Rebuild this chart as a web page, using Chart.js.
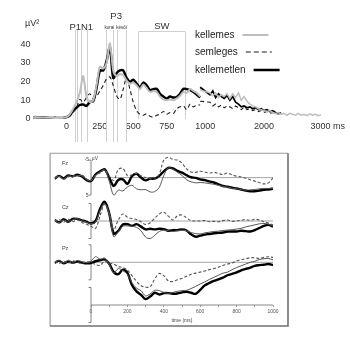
<!DOCTYPE html>
<html><head><meta charset="utf-8">
<script src="https://cdn.jsdelivr.net/npm/chart.js@4.4.0/dist/chart.umd.min.js"></script>
<style>
html,body{margin:0;padding:0;background:#fff;width:350px;height:343px;overflow:hidden}
canvas{position:absolute;left:0}
#top{top:0px}
#erp{top:140px}
</style></head><body>
<canvas id="top" width="350" height="145" style="width:350px;height:145px"></canvas>
<canvas id="erp" width="350" height="203" style="width:350px;height:203px"></canvas>
<script>
// ================= TOP CHART DATA (µV², ms) =================
const seg1Times = [-250,-225,-200,-175,-150,-125,-100,-75,-50,-25,0,25,50,75,100,125,150,175,200,225,250,275,300,325,350,375,400,425,450,475,500,525,550,575,600,625,650,675,700,725,750,775,800,825,850,875,900,925,950,975,1000];
const kellemes1 = [1.0,1.0,0.9,0.8,0.7,0.7,0.6,0.6,0.6,0.6, 1.0,2.5,5.5,9.0,14.0,23.0,12.0,9.0,10.0,18.0, 28.0,27.0,30.0,40.5,26.0,23.0,24.0,23.5,20.5,19.0, 19.5,18.0,16.0,18.5,16.5,14.5,15.0,14.5,12.0,10.5, 10.0,10.5,10.0,11.0,12.5,14.5,14.0,16.0,15.0,14.0, 12.0];
const semleges1 = [0.9,0.9,0.8,0.8,0.7,0.7,0.6,0.6,0.6,0.6, 0.8,1.5,3.5,6.0,10.5,9.0,11.5,13.5,11.0,12.0, 15.0,18.0,21.5,22.5,18.0,12.5,10.5,16.0,22.0,16.0, 9.0,4.5,2.5,2.0,2.8,1.5,1.0,2.0,2.5,4.0, 2.5,3.5,3.0,5.5,6.5,7.0,5.0,8.0,6.5,7.5, 7.5];
const kellemetlen1 = [1.0,1.0,0.9,0.8,0.7,0.6,0.6,0.6,0.5,0.6, 1.0,2.0,4.5,6.0,7.5,7.8,7.0,9.0,9.5,16.5, 26.0,26.0,31.0,38.5,22.0,24.5,26.0,26.0,22.0,20.0, 21.0,19.0,17.0,19.5,18.0,15.5,16.0,16.2,13.5,12.0, 11.0,12.0,11.5,11.8,13.5,16.2,16.0,15.5,14.5,13.0, 11.5];
const seg2Times = [1000,1050,1100,1150,1200,1250,1300,1350,1400,1450,1500,1550,1600,1650,1700,1750,1800,1850,1900,1950,2000,2050,2100,2150,2200,2250,2300,2350,2400,2450,2500,2550,2600,2650,2700,2750,2800,2850,2900,2950,3000];
const kellemes2 = [15.5,14.0,12.5,14.0,11.5,13.0,12.0,13.5,11.0,13.5, 11.5,14.0,10.0,12.0,9.5,8.0,7.0,6.5,5.5,5.0, 4.5,4.0,4.5,3.5,3.0,3.5,2.5,3.0,2.0,3.0, 2.5,2.0,3.0,2.0,2.5,1.8,2.8,2.0,2.5,1.8, 2.2];
const semleges2 = [9.5,9.0,7.0,8.0,6.5,7.5,6.0,7.0,6.5,5.5, 7.0,6.0,5.0,6.5,5.0,5.5,4.5,5.0,4.0,4.5, 3.5,4.0,3.0,3.5,2.5,3.0,2.5];
const kellemetlen2 = [17.0,13.0,15.0,11.5,13.5,12.0,11.0,12.5,10.0,12.0, 9.0,8.0,6.5,7.0,6.0,6.5,5.5,6.0,5.0,5.5, 4.5,5.0,4.0,4.5,3.5,3.0,3.2];
const xTickTimes = [0,250,500,750,1000,2000,3000];
const xTickLabels = ['0','250','500','750','1000','2000','3000 ms'];
const yTickValues = [0,10,20,30,40];
const windowTimes = [65,82,110,157,297,347,377,447];
const swWindow = [539,888];
const legendLabels = ['kellemes','semleges','kellemetlen'];

// ================= ERP DATA (µV, ms) =================
const erpTimes = [-200,-175,-150,-125,-100,-75,-50,-25,0,25,50,75,100,125,150,175,200,225,250,275,300,325,350,375,400,425,450,475,500,525,550,575,600,625,650,675,700,725,750,775,800,825,850,875,900,925,950,975,1000];
const channelNames = ['Fz','Cz','Pz'];
const fzKellemes = [0.2,-0.4,0.4,-0.5,-0.2,-0.6,-0.5,0.5, 0.9,-0.7,-1.6,-2.2,1.0,5.0,3.6,3.8,2.7,2.2,3.2,3.5,3.4,4.1,4.0,2.8,-0.6,-2.8,-2.4,-1.5,-0.6,0.6,1.2,1.5,1.4,1.5,1.7,1.9,2.2,2.5,2.7,3.0,3.2,3.4,3.6,3.5,3.4,3.2,3.1,3.1,3.0];
const fzSemleges = [0.1,-0.3,0.5,-0.2,-0.6,-0.3,-0.8,0.4, 0.8,-0.6,-1.4,-2.2,-0.5,0.8,-2.3,-2.6,-0.6,-0.8,-1.2,-0.5,0,0.2,0.4,-1.0,-5.0,-5.8,-5.2,-5.0,-4.1,-2.5,-1.6,-1.5,-1.8,-1.6,-1.3,-1.5,-1.2,-0.9,-1.3,-0.8,-0.4,-0.2,0.2,0.6,1.0,1.4,1.8,1.5,0.1];
const fzKellemetlen = [0.3,-0.5,0.2,-0.6,-0.4,-0.8,-0.3,0.7, 1.0,-0.9,-1.8,-2.4,0,2.4,0.7,0.5,1.8,-0.4,-1.1,0,0.8,0.3,0.3,-0.5,-1.8,-2.8,-2.6,-1.9,-1.4,-0.7,-0.1,0.1,0.5,0.7,1.1,1.4,1.9,2.4,2.6,2.9,3.1,3.4,3.7,3.9,3.9,3.7,3.5,3.4,3.2];
const czKellemes = [-0.2,0.5,-0.3,0.3,-0.4,-0.7,-0.1,0.3, 0.8,0.3,-3.0,-5.0,-2.0,4.5,3.0,1.5,1.4,1.5,1.8,2.8,4.6,5.0,4.1,3.0,2.6,2.8,3.0,2.8,2.6,2.8,3.3,3.6,3.7,3.4,3.2,3.0,2.9,2.7,2.6,2.5,2.3,2.1,1.7,1.4,1.1,0.8,0.7,0.9,1.4];
const czSemleges = [0.1,-0.4,0.3,-0.5,0.2,-0.3,0.4,0.9, 1.5,2.1,-1.5,-4.8,-2.0,2.4,-0.3,-2.0,-1.1,-0.7,-0.4,0.2,1.0,0.5,-0.8,-2.0,-2.5,-1.4,-0.3,-1.5,-1.7,-0.9,-0.1,0.0,0.0,-0.1,0.2,0.1,0.2,-0.1,-0.3,0.1,0.0,-0.2,-0.4,-0.2,-0.5,-0.3,0.2,0.6,1.1];
const czKellemetlen = [-0.3,0.4,-0.5,0.2,-0.6,-0.6,-0.2,0.2, 0.7,0.0,-3.5,-5.5,-2.2,3.6,2.8,1.0,0.9,1.4,0.9,1.6,2.4,2.2,2.4,2.2,2.3,2.8,2.6,2.6,2.4,2.7,3.8,4.5,4.2,3.9,3.7,3.5,3.4,3.3,3.0,3.0,3.0,2.8,2.9,3.0,2.6,2.0,1.4,1.1,1.6];
const pzKellemes = [0.0,-0.5,0.2,-0.6,0.0,-0.5,-0.2,0.1, -0.3,-1.6,-0.9,-1.2,0.6,3.0,1.8,2.4,3.4,5.8,7.4,8.1,9.6,9.0,8.0,8.1,8.6,8.9,8.6,8.3,8.1,8.0,7.5,6.9,6.2,5.6,4.9,4.3,3.7,3.1,2.8,2.1,1.5,1.0,0.5,0.0,-0.3,-0.8,-1.0,-1.1,-0.7];
const pzSemleges = [-0.2,0.3,-0.3,0.2,-0.4,0.0,0.3,-0.2, 0.1,0.6,0.9,-0.4,0.2,0.5,1.2,1.5,2.2,3.8,5.4,6.7,7.1,7.0,4.8,3.2,3.8,5.3,5.5,5.0,4.6,4.0,3.4,3.1,2.8,2.5,2.1,1.8,1.4,0.9,0.5,0.2,-0.4,-0.7,-1.0,-1.3,-1.3,-1.1,-1.4,-1.6,-1.4];
const pzKellemetlen = [0.2,-0.4,0.3,-0.2,0.1,-0.2,0.1,0.3, 0.2,-0.3,-0.6,-0.8,0.4,2.8,3.4,2.1,3.0,6.5,8.3,9.3,10.5,9.8,8.7,9.2,8.8,8.8,9.0,8.9,8.6,8.4,8.7,9.0,7.9,6.6,5.9,5.3,4.9,4.4,3.7,3.3,2.9,2.3,1.9,1.5,1.0,0.8,0.7,0.5,0.8];
const erpTickTimes = [0,100,200,300,400,500,600,700,800,900,1000];

// ================= layout helpers =================
const FONT = '"Liberation Sans", Arial, sans-serif';
const GAP = 52, K2 = 0.4263;               // broken x-axis: compressed 1000-3000 ms segment
function virt(t){ return t <= 1000 ? t : 1000 + GAP + (t - 1000) * K2; }
function tickPos(t){ if (t === 1000) return 1000 + GAP * 0.75; if (t === 3000) return virt(3000) + 50; return virt(t); }
function pts(times, vals, off){ return vals.map((v,i)=>({x: virt(times[i]), y: v + (off||0)})); }

const cGray = '#bdbdbd', cBlack = '#000';
const styleK  = {borderColor:cGray, borderWidth:2};
const styleS  = {borderColor:'#1a1a1a', borderWidth:1.1, borderDash:[4,3]};
const styleKt = {borderColor:cBlack, borderWidth:2.5};

function ds(data, st, extra){ return Object.assign({data, pointRadius:0, fill:false, tension:0.3}, st, extra||{}); }

const topPlugin = {
  id:'topDeco',
  beforeDatasetsDraw(chart){
    const c = chart.ctx, xs = chart.scales.x;
    c.save();
    c.strokeStyle = '#d0d0d0'; c.lineWidth = 1;
    windowTimes.forEach(t=>{
      const x = Math.round(xs.getPixelForValue(virt(t))) + 0.5;
      c.beginPath(); c.moveTo(x, 30); c.lineTo(x, 142); c.stroke();
    });
    const x1 = Math.round(xs.getPixelForValue(virt(swWindow[0]))) + 0.5;
    const x2 = Math.round(xs.getPixelForValue(virt(swWindow[1]))) + 0.5;
    c.beginPath(); c.moveTo(x1, 119); c.lineTo(x1, 31.5); c.lineTo(x2, 31.5); c.lineTo(x2, 119); c.stroke();
    c.restore();
  },
  afterDraw(chart){
    const c = chart.ctx, xs = chart.scales.x;
    c.save();
    c.fillStyle = '#333'; c.textBaseline = 'middle';
    c.font = '9px ' + FONT; c.textAlign = 'left';
    c.fillText('µV²', 25, 24);
    c.textAlign = 'center';
    c.font = '9.5px ' + FONT;
    c.fillText('P1N1', (xs.getPixelForValue(windowTimes[0]) + xs.getPixelForValue(windowTimes[3]))/2, 27);
    c.fillText('P3', (xs.getPixelForValue(windowTimes[4]) + xs.getPixelForValue(windowTimes[7]))/2, 16.5);
    c.fillText('SW', (xs.getPixelForValue(swWindow[0]) + xs.getPixelForValue(swWindow[1]))/2, 26.5);
    c.font = '4.5px ' + FONT;
    c.fillText('korai', (xs.getPixelForValue(windowTimes[4]) + xs.getPixelForValue(windowTimes[5]))/2, 27.5);
    c.fillText('késői', (xs.getPixelForValue(windowTimes[6]) + xs.getPixelForValue(windowTimes[7]))/2, 27.5);
    // legend
    c.font = '10px ' + FONT; c.textAlign = 'left'; c.fillStyle = '#222';
    const ly = [35, 52, 70], lx = 195;
    const lst = [styleK, styleS, styleKt];
    legendLabels.forEach((lab,i)=>{
      c.fillText(lab, lx, ly[i]);
      const w = c.measureText(lab).width;
      c.beginPath();
      c.strokeStyle = lst[i].borderColor; c.lineWidth = lst[i].borderWidth;
      c.setLineDash(lst[i].borderDash ? [5,3] : []);
      const s = lx + w + 8;
      c.moveTo(s, ly[i]); c.lineTo(s + 26, ly[i]); c.stroke();
    });
    c.restore();
  }
};

new Chart(document.getElementById('top'), {
  type:'line',
  data:{datasets:[
    ds(pts(seg1Times, kellemes1), styleK),
    ds(pts(seg2Times, kellemes2), styleK, {borderWidth:1.5, tension:0}),
    ds(pts(seg1Times, semleges1), styleS),
    ds(pts(seg2Times, semleges2), styleS, {tension:0}),
    ds(pts(seg1Times, kellemetlen1), styleKt),
    ds(pts(seg2Times, kellemetlen2), styleKt, {borderWidth:1.7, tension:0})
  ]},
  options:{
    responsive:false, animation:false, events:[],
    layout:{padding:{left:0, right:21.5, top:35, bottom:0}},
    plugins:{legend:{display:false}, tooltip:{enabled:false}},
    scales:{
      x:{type:'linear', min:-250, max:1960,
        grid:{display:false, drawTicks:false}, border:{display:false},
        afterBuildTicks(s){ s.ticks = xTickTimes.map(t=>({value: tickPos(t)})); },
        ticks:{autoSkip:false, maxRotation:0, padding:2.5, color:'#333', font:{family:FONT, size:9},
          callback:(v,i)=>xTickLabels[i]},
        afterFit(s){ s.height = 26; }
      },
      y:{min:0, max:45,
        grid:{display:false, drawTicks:false}, border:{display:false},
        afterBuildTicks(s){ s.ticks = yTickValues.map(v=>({value:v})); },
        ticks:{padding:2.5, color:'#333', font:{family:FONT, size:9}},
        afterFit(s){ s.width = 33; }
      }
    }
  },
  plugins:[topPlugin]
});

// ================= ERP CHART =================
const OFFS = [0, 12.4, 24.2];   // vertical stacking of channels (µV units)
const AXIS_OFF = 36.4;
const erpSeries = [
  [fzKellemes, fzSemleges, fzKellemetlen],
  [czKellemes, czSemleges, czKellemetlen],
  [pzKellemes, pzSemleges, pzKellemetlen]
];
const eK  = {borderColor:'#555', borderWidth:1};
const eS  = {borderColor:'#555', borderWidth:1.1, borderDash:[3,2]};
const eKt = {borderColor:'#000', borderWidth:2.4};
const erpDatasets = [];
[eK, eS, eKt].forEach((st, ci)=>{
  erpSeries.forEach((ch, chi)=>{
    erpDatasets.push(Object.assign({
      data: ch[ci].map((v,i)=>({x: erpTimes[i], y: OFFS[chi] + v})),
      pointRadius:0, fill:false, tension:0.35
    }, st));
  });
});

const erpPlugin = {
  id:'erpDeco',
  beforeDatasetsDraw(chart){
    const c = chart.ctx, xs = chart.scales.x, ys = chart.scales.y;
    const x0 = xs.getPixelForValue(0), x1 = xs.getPixelForValue(1000);
    c.save();
    c.strokeStyle = '#9a9a9a'; c.lineWidth = 0.9;
    OFFS.forEach(o=>{
      const y = ys.getPixelForValue(o);
      c.beginPath(); c.moveTo(x0, y); c.lineTo(x1, y); c.stroke();
    });
    c.strokeStyle = '#888'; c.lineWidth = 1;
    const ya = ys.getPixelForValue(AXIS_OFF);
    c.beginPath(); c.moveTo(x0, ya); c.lineTo(x1, ya); c.stroke();
    // brackets
    c.strokeStyle = '#777'; c.lineWidth = 0.9;
    OFFS.concat([AXIS_OFF]).forEach(o=>{
      const yt = ys.getPixelForValue(o - 5), yb = ys.getPixelForValue(o + 5);
      c.beginPath();
      c.moveTo(x0 - 2.5, yt); c.lineTo(x0, yt); c.lineTo(x0, yb); c.lineTo(x0 - 2.5, yb);
      c.stroke();
    });
    c.restore();
  },
  afterDraw(chart){
    const c = chart.ctx, xs = chart.scales.x, ys = chart.scales.y, ca = chart.chartArea;
    const x0 = xs.getPixelForValue(0);
    c.save();
    c.fillStyle = '#444'; c.textBaseline = 'middle';
    c.font = '5.5px ' + FONT;
    c.textAlign = 'left';
    channelNames.forEach((n,i)=>{ c.fillText(n, xs.getPixelForValue(-160), ys.getPixelForValue(OFFS[i] - 4)); });
    c.font = '5px ' + FONT;
    c.textAlign = 'right';
    c.fillText('-5', x0 - 2, ys.getPixelForValue(-5) - 0.5);
    c.fillText('5', x0 - 2.5, ys.getPixelForValue(5) + 0.5);
    c.textAlign = 'left';
    c.fillText('µV', x0 + 0.8, ys.getPixelForValue(-5) - 1.5);
    c.textAlign = 'center';
    c.fillText('time (ms)', xs.getPixelForValue(500), ys.getPixelForValue(AXIS_OFF) + 15.7);
    // frame
    const L = xs.getPixelForValue(-200) - 4.5, R = xs.getPixelForValue(1000) + 15;
    const T = ca.top + 0.5, B = ys.getPixelForValue(AXIS_OFF) + 21;
    c.strokeStyle = '#9a9a9a'; c.lineWidth = 1.2;
    c.beginPath(); c.moveTo(L, B); c.lineTo(L, T); c.lineTo(R, T); c.stroke();
    c.strokeStyle = '#707070'; c.lineWidth = 1.6;
    c.beginPath(); c.moveTo(R, T); c.lineTo(R, B); c.lineTo(L, B); c.stroke();
    c.restore();
  }
};

new Chart(document.getElementById('erp'), {
  type:'line',
  data:{datasets: erpDatasets},
  options:{
    responsive:false, animation:false, events:[],
    layout:{padding:{left:54.6, right:77, top:12.75, bottom:0}},
    plugins:{legend:{display:false}, tooltip:{enabled:false}},
    scales:{
      x:{type:'linear', min:-200, max:1000,
        grid:{drawOnChartArea:false, drawTicks:true, tickLength:2, color:'#888', lineWidth:0.8},
        border:{display:false},
        afterBuildTicks(s){ s.ticks = erpTickTimes.map(v=>({value:v})); },
        ticks:{autoSkip:false, maxRotation:0, padding:1.2, color:'#555', font:{family:FONT, size:5},
          callback:(v)=> (v % 200 === 0 ? String(v) : '')},
        afterFit(s){ s.height = 38; }
      },
      y:{display:false, reverse:true, min: AXIS_OFF - 43.5, max: AXIS_OFF}
    }
  },
  plugins:[erpPlugin]
});
</script>
</body></html>
